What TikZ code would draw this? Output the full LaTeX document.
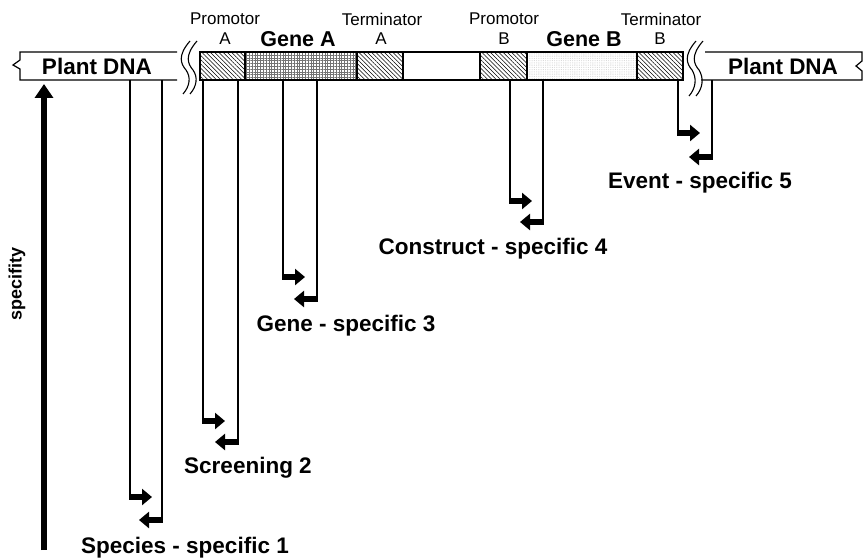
\documentclass[tikz,border=0pt]{standalone}
\usepackage{fontspec}
\setmainfont{Liberation Sans}
\usetikzlibrary{arrows.meta,patterns.meta}
\tikzset{
  dna/.style={line width=1.2pt},
  primer/.style={line width=1.3pt},
  fwd/.style={line width=5.5pt,-{Triangle[length=10pt,width=16pt]}},
  boldlbl/.style={font=\bfseries\fontsize{22.5}{24}\selectfont,inner sep=0pt},
  genelbl/.style={font=\bfseries\fontsize{21.5}{23}\selectfont,inner sep=0pt},
  smalllbl/.style={font=\fontsize{17}{19}\selectfont,inner sep=0pt},
  hatchbox/.style={dna,pattern={Lines[angle=-45,distance=3pt,line width=0.55pt]}},
  gridbox/.style={dna,pattern={Hatch[angle=0,distance=2.8pt,line width=0.4pt]},pattern color=black!55},
  dotbox/.style={dna,pattern={Dots[distance=1.8pt,radius=0.3pt]},pattern color=black!35},
  squig/.style={line width=1.1pt}
}
\begin{document}
\begin{tikzpicture}[x=1pt,y=-1pt]
\useasboundingbox (0,0) rectangle (864,559);
% left plant DNA strip
\draw[dna] (177,52) -- (20,52) -- (20,60) -- (13,65) -- (20,69) -- (20,80) -- (177,80);
\node[boldlbl] (pdl) at (97,66) {Plant DNA};
% left break
\foreach \x in {184,191}{
  \draw[squig] (\x+6,41) .. controls (\x-7,56) and (\x-3,64) .. (\x+2,70) .. controls (\x+7,77) and (\x+6,86) .. (\x-1,94);
}
% construct
\draw[dna] (403,52) -- (480,52) (403,80) -- (480,80);
\draw[hatchbox] (200,52) rectangle (245,80);
\draw[gridbox] (245,52) rectangle (357,80);
\draw[hatchbox] (357,52) rectangle (403,80);
\draw[hatchbox] (480,52) rectangle (527,80);
\draw[dotbox] (527,52) rectangle (637,80);
\draw[hatchbox] (637,52) rectangle (683,80);
% right break
\foreach \x in {690,697}{
  \draw[squig] (\x+6,41) .. controls (\x-7,56) and (\x-3,64) .. (\x+2,70) .. controls (\x+7,78) and (\x+6,88) .. (\x-1,96);
}
% right plant DNA strip
\draw[dna] (705,52) -- (862,52) -- (862,61) -- (856,66) -- (862,71) -- (862,80) -- (701,80);
\node[boldlbl] (pdr) at (783,66) {Plant DNA};
% element labels
\node[smalllbl] (pa1) at (225,19) {Promotor};
\node[smalllbl] (pa2) at (225,39) {A};
\node[genelbl] (ga) at (298,39) {Gene A};
\node[smalllbl] (ta1) at (382,19) {Terminator};
\node[smalllbl] (ta2) at (381,39) {A};
\node[smalllbl] (pb1) at (504,19) {Promotor};
\node[smalllbl] (pb2) at (504,39) {B};
\node[genelbl] (gb) at (584,39) {Gene B};
\node[smalllbl] (tb1) at (661,19) {Terminator};
\node[smalllbl] (tb2) at (660,39) {B};
% primer pairs
\foreach \n/\xl/\xr/\yl/\yr in {1/130/162/497/520, 2/203/238/421/442, 3/283/317/277/299, 4/510/543/201/222, 5/678/712/133/157}{
  \coordinate (l\n top) at (\xl,80);
  \coordinate (l\n bot) at (\xl,\yl);
  \coordinate (l\n tip) at (\xl+22,\yl);
  \coordinate (r\n top) at (\xr,80);
  \coordinate (r\n bot) at (\xr,\yr);
  \coordinate (r\n tip) at (\xr-23,\yr);
  \draw[primer] (l\n top) -- ([yshift=-2.75pt]l\n bot);
  \draw[primer] (r\n top) -- ([yshift=-2.75pt]r\n bot);
  \draw[fwd] ([xshift=-0.65pt]l\n bot) -- (l\n tip);
  \draw[fwd] ([xshift=0.65pt]r\n bot) -- (r\n tip);
}
\node[boldlbl] (s1) at (185,548) {Species - specific 1};
\node[boldlbl] (s2) at (248,468) {Screening 2};
\node[boldlbl] (s3) at (346,326) {Gene - specific 3};
\node[boldlbl] (s4) at (493,249) {Construct - specific 4};
\node[boldlbl] (s5) at (700,183) {Event - specific 5};
% specifity arrow
\coordinate (spb) at (44,550);
\coordinate (spt) at (44,84);
\draw[line width=6pt,-{Triangle[length=14pt,width=18pt]}] (spb) -- (spt);
\node[font=\bfseries\fontsize{18}{20}\selectfont,inner sep=0pt,rotate=90] (spl) at (17,284) {specifity};
\end{tikzpicture}
\end{document}
